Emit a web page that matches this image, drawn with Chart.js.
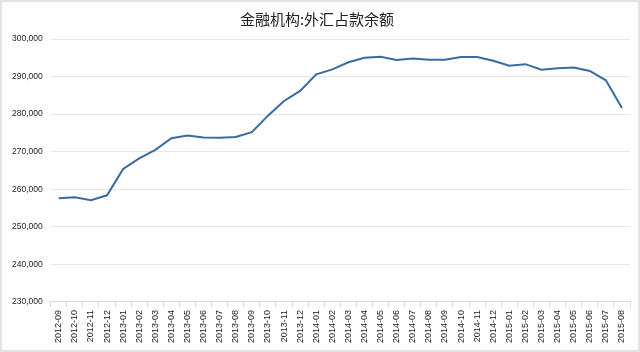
<!DOCTYPE html>
<html>
<head>
<meta charset="utf-8">
<script src="https://cdn.jsdelivr.net/npm/chart.js@4/dist/chart.umd.min.js"></script>
<style>
    html, body { margin: 0; padding: 0; background: #fff; }
    #wrap { position: relative; width: 636px; height: 348px; border: 2px solid #e4e4e4; }
</style>
</head>
<body>
<div id="wrap"><canvas id="chart"></canvas></div>
<script>
const months = [
    '2012-09', '2012-10', '2012-11', '2012-12',
    '2013-01', '2013-02', '2013-03', '2013-04', '2013-05', '2013-06',
    '2013-07', '2013-08', '2013-09', '2013-10', '2013-11', '2013-12',
    '2014-01', '2014-02', '2014-03', '2014-04', '2014-05', '2014-06',
    '2014-07', '2014-08', '2014-09', '2014-10', '2014-11', '2014-12',
    '2015-01', '2015-02', '2015-03', '2015-04', '2015-05', '2015-06',
    '2015-07', '2015-08'
];
// 外汇占款余额 (亿元)
const balance = [
    257600, 257900, 257100, 258400,
    265400, 268200, 270500, 273600, 274300, 273800,
    273700, 273900, 275200, 279600, 283500, 286200,
    290600, 291900, 293800, 295000, 295300, 294400,
    294800, 294500, 294500, 295200, 295200, 294200,
    292900, 293300, 291800, 292200, 292400, 291500,
    289000, 281600
];
const yMin = 230000;
const yMax = 300000;
const yStep = 10000;

new Chart(document.getElementById('chart'), {
    type: 'line',
    data: {
        labels: months,
        datasets: [{
            data: balance,
            borderColor: '#3a6aa3',
            borderWidth: 2,
            pointRadius: 0,
            tension: 0,
            fill: false
        }]
    },
    options: {
        responsive: true,
        maintainAspectRatio: false,
        animation: false,
        layout: { padding: { left: 2, right: 8, top: 2, bottom: 4 } },
        plugins: {
            legend: { display: false },
            tooltip: { enabled: false },
            title: {
                display: true,
                text: '金融机构:外汇占款余额',
                color: '#222',
                font: { family: 'Noto Sans CJK SC', size: 15, weight: 'normal' },
                padding: { top: 6, bottom: 11 }
            }
        },
        scales: {
            x: {
                offset: true,
                grid: {
                    offset: true,
                    drawOnChartArea: false,
                    color: '#d9d9d9',
                    tickLength: 5
                },
                border: { color: '#d9d9d9' },
                ticks: {
                    autoSkip: false,
                    maxRotation: 90,
                    minRotation: 90,
                    padding: 3,
                    color: '#222',
                    font: { family: 'Liberation Sans', size: 9 }
                }
            },
            y: {
                min: yMin,
                max: yMax,
                grid: { color: '#e6e6e6', drawTicks: false },
                border: { display: false },
                ticks: {
                    stepSize: yStep,
                    padding: 8,
                    color: '#222',
                    font: { family: 'Liberation Sans', size: 8.5 },
                    callback: v => v.toLocaleString('en-US')
                }
            }
        }
    }
});
</script>
</body>
</html>
